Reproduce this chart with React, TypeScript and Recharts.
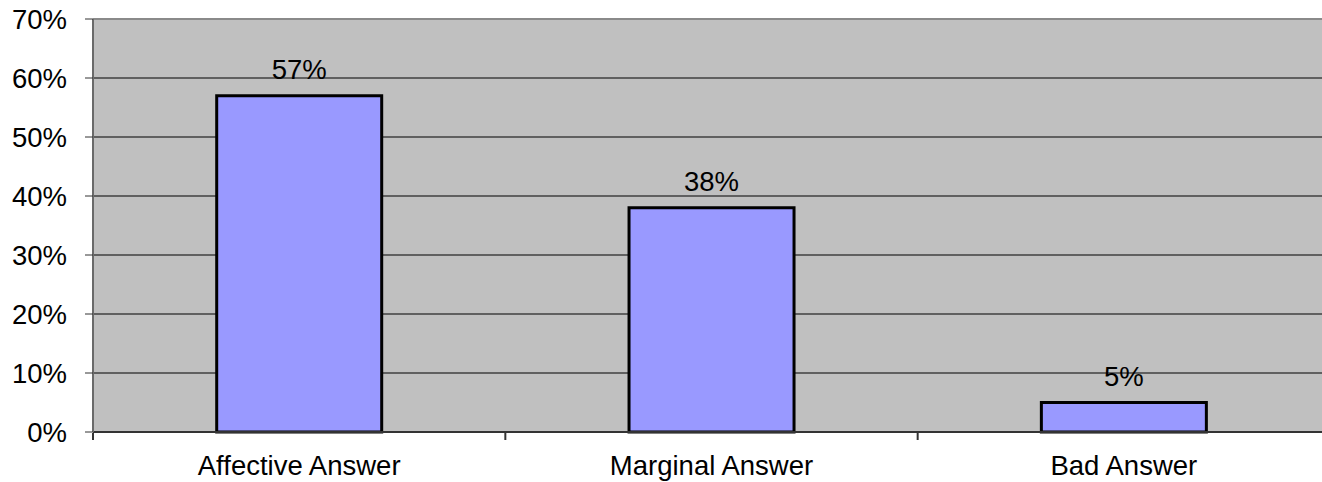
import React from 'react';
import { BarChart, Bar, XAxis, YAxis, CartesianGrid, ReferenceLine, LabelList } from 'recharts';

const categories = ['Affective Answer', 'Marginal Answer', 'Bad Answer'];
const shares = [57, 38, 5];
const yTicks = [0, 10, 20, 30, 40, 50, 60, 70];
const gridLines = [10, 20, 30, 40, 50, 60];
const boundaryTicks = [0, 1, 2, 3];

const data = categories.map((name, i) => ({ name, value: shares[i], pos: i + 0.5 }));

const FONT = '"Liberation Sans", Arial, sans-serif';
const FS = 27.5;

export default function App() {
  return (
    <div style={{ position: 'absolute', left: 0, top: 0, width: 1322, height: 482, overflow: 'hidden', background: '#fff' }}>
      <BarChart
        width={1340}
        height={482}
        data={data}
        margin={{ top: 19, right: 10, left: 0, bottom: 0 }}
        barCategoryGap="30%"
        style={{ fontFamily: FONT }}
      >
        <XAxis
          xAxisId="cat"
          dataKey="name"
          height={1}
          stroke="#333"
          strokeWidth={2}
          tickLine={false}
          tickSize={0}
          tickMargin={23}
          tick={{ fill: '#000', fontSize: FS, fontFamily: FONT }}
        />
        {/* boundary ticks between categories, placed just under the category axis */}
        <XAxis
          xAxisId="edge"
          type="number"
          dataKey="pos"
          domain={[0, 3]}
          ticks={boundaryTicks}
          interval={0}
          height={49}
          axisLine={false}
          tickSize={7}
          tickFormatter={() => ''}
          tickLine={{ stroke: '#333', strokeWidth: 2 }}
        />
        <YAxis
          width={93}
          domain={[0, 70]}
          ticks={yTicks}
          interval={0}
          tickFormatter={(v: number) => `${v}%`}
          stroke="#6a6a6a"
          strokeWidth={2}
          tickSize={8}
          tickMargin={18}
          tickLine={{ stroke: '#333', strokeWidth: 1 }}
          tick={{ fill: '#000', fontSize: FS, fontFamily: FONT }}
        />
        <CartesianGrid
          xAxisId="cat"
          vertical={false}
          horizontal={{ stroke: '#000', strokeWidth: 1, shapeRendering: 'crispEdges' } as any}
          horizontalValues={gridLines}
          stroke="#000"
          strokeOpacity={1}
          fill="#C0C0C0"
          fillOpacity={1}
        />
        <ReferenceLine xAxisId="cat" y={70} stroke="#8a8a8a" strokeWidth={2} />
        <Bar xAxisId="cat" dataKey="value" fill="#9999FF" stroke="#000" strokeWidth={3} isAnimationActive={false}>
          <LabelList
            dataKey="value"
            position="top"
            offset={17}
            formatter={(v: number) => `${v}%`}
            style={{ fill: '#000', fontSize: FS, fontFamily: FONT }}
          />
        </Bar>
      </BarChart>
    </div>
  );
}
